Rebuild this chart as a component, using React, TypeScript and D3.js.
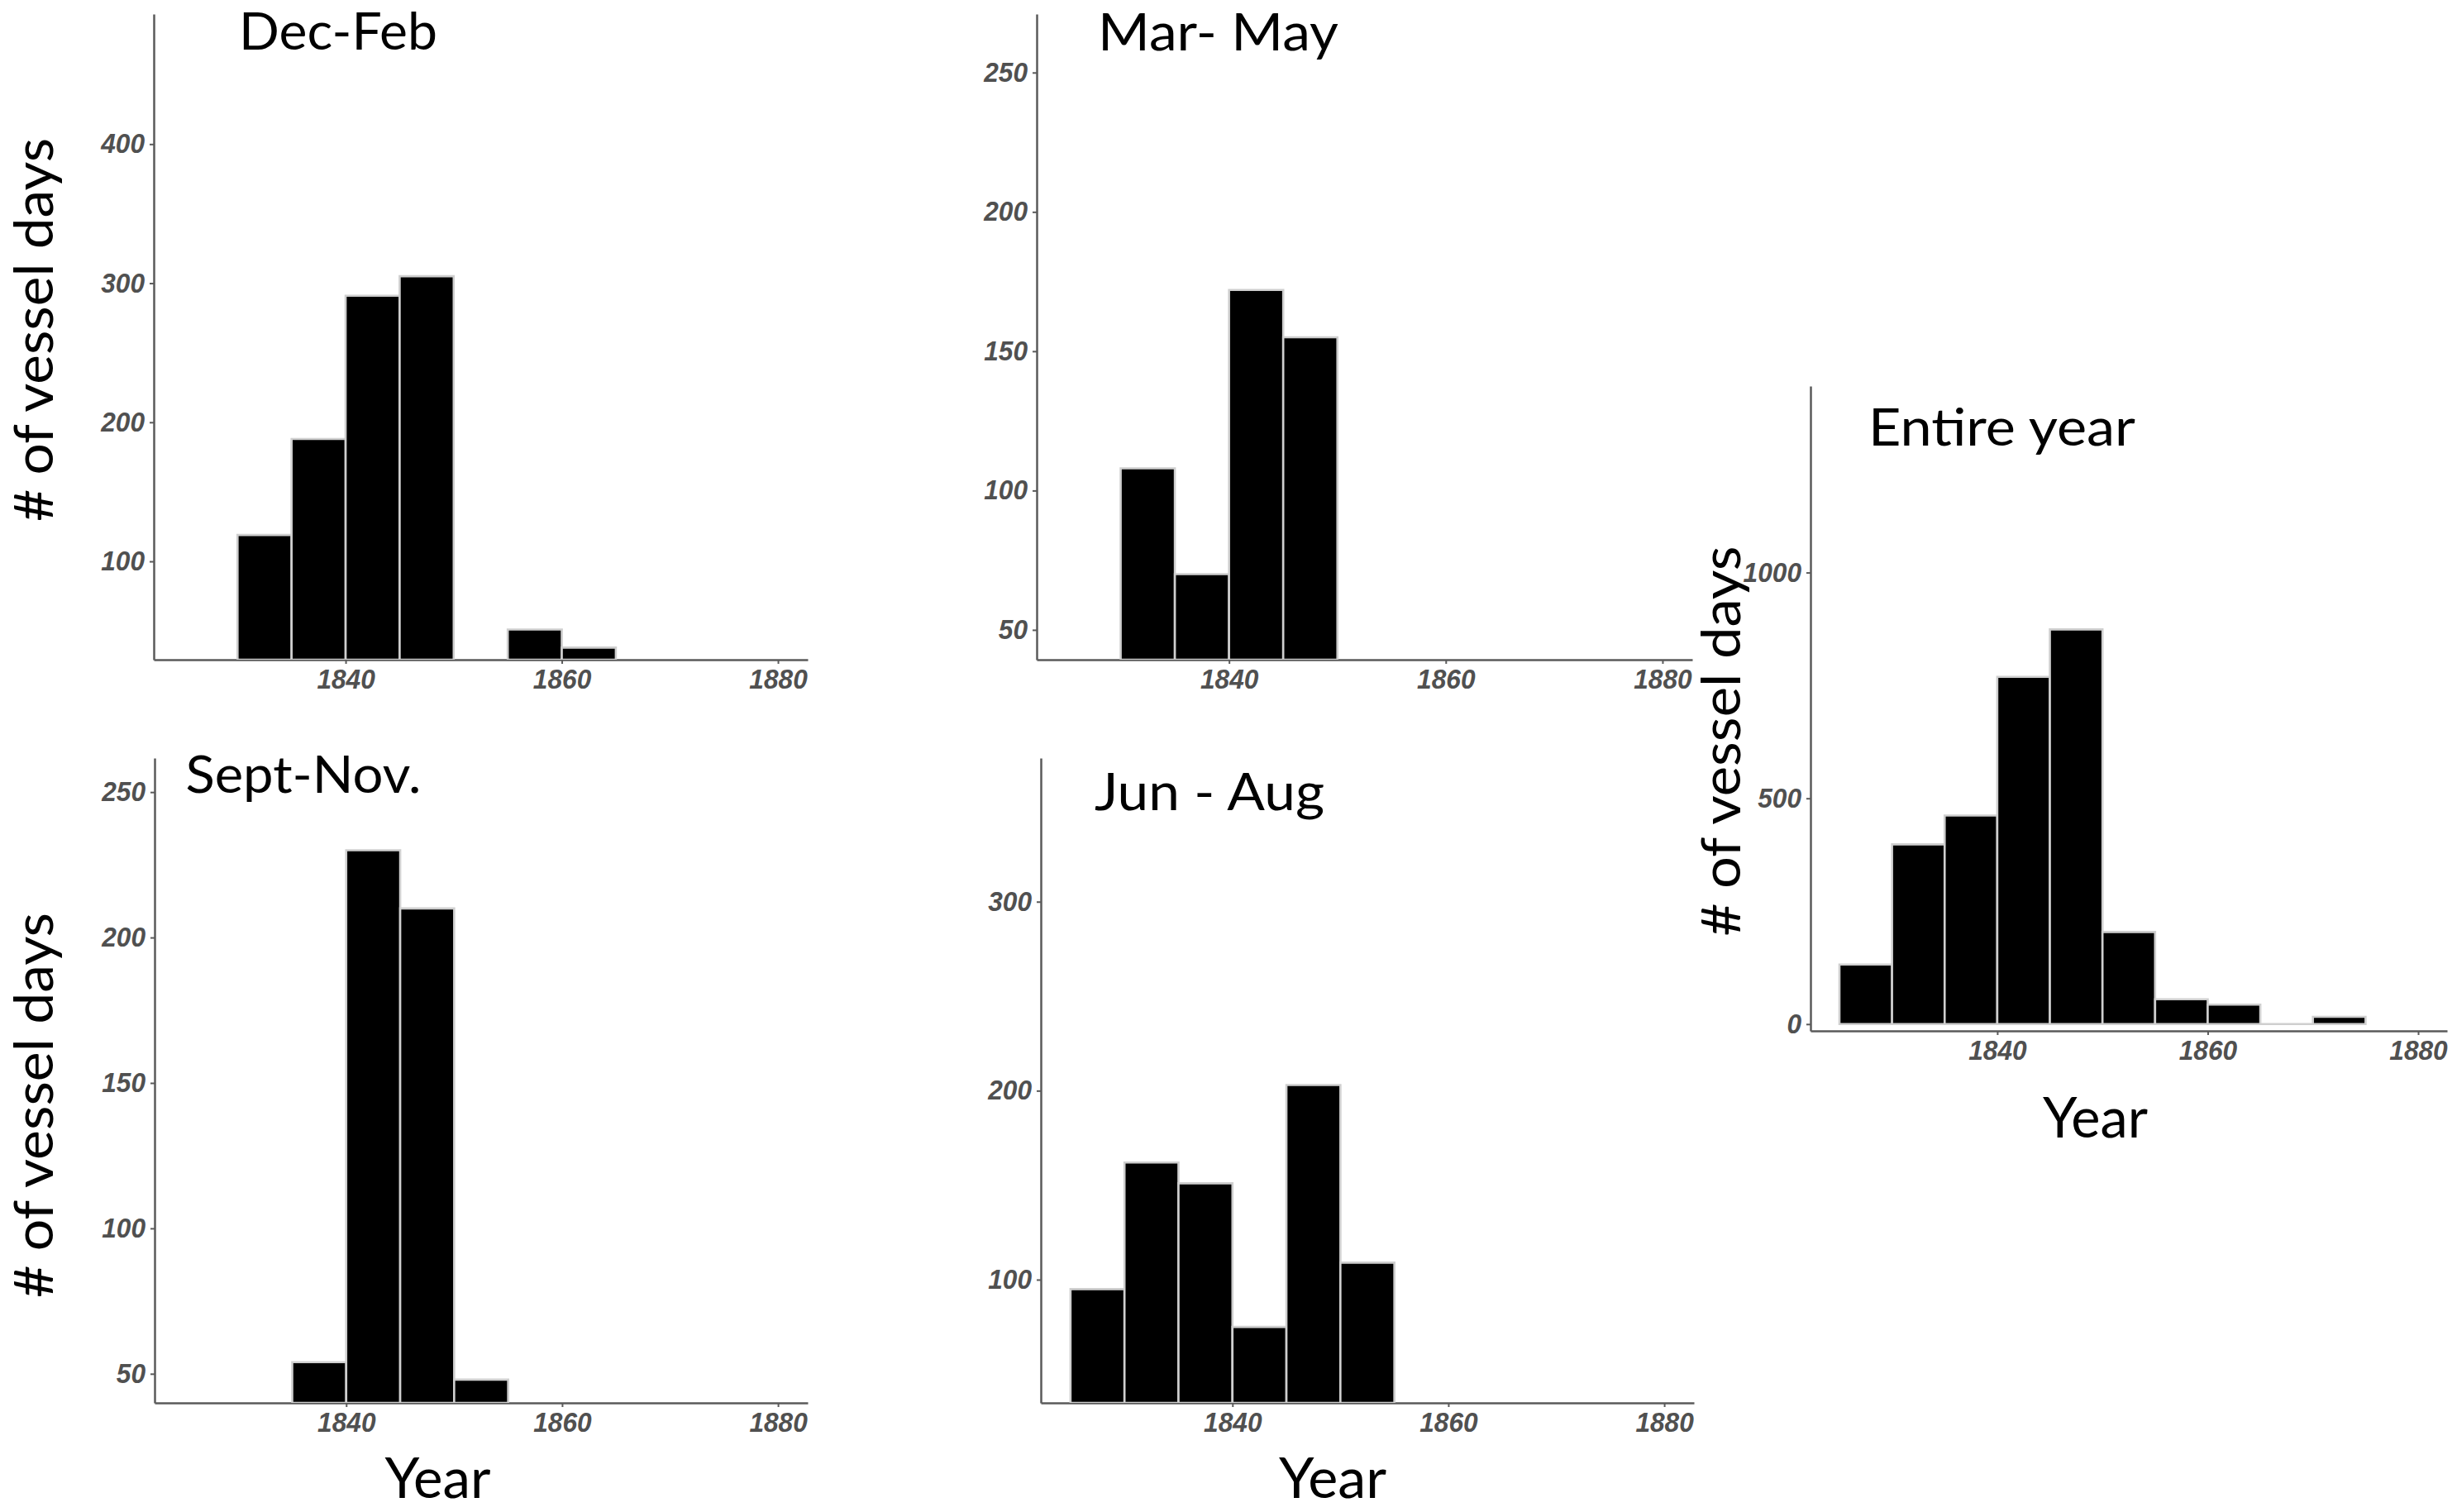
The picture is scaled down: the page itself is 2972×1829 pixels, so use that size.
import * as React from 'react';
import * as d3 from 'd3';

// histogram bins (left edge year) and vessel-day counts
const binWidth = 5;
const decFebBins = [1830, 1835, 1840, 1845, 1855, 1860];
const decFebCounts = [119, 188, 291, 305, 51, 38];
const marMayBins = [1830, 1835, 1840, 1845];
const marMayCounts = [108, 70, 172, 155];
const septNovBins = [1835, 1840, 1845, 1850];
const septNovCounts = [54, 230, 210, 48];
const junAugBins = [1825, 1830, 1835, 1840, 1845, 1850];
const junAugCounts = [95, 162, 151, 75, 203, 109];
const yearBins = [1825, 1830, 1835, 1840, 1845, 1850, 1855, 1860, 1865, 1870];
const yearCounts = [132, 398, 462, 769, 874, 204, 55, 43, 0, 16];

const xDomain = [1822.25, 1882.75];
const xTicks = [1840, 1860, 1880];
const decFebTicks = [100, 200, 300, 400];
const marMayTicks = [50, 100, 150, 200, 250];
const septNovTicks = [50, 100, 150, 200, 250];
const junAugTicks = [100, 200, 300];
const yearTicks = [0, 500, 1000];

const yLabel = '# of vessel days';
const xLabel = 'Year';

const panels = [
  { title: 'Dec-Feb', bins: decFebBins, counts: decFebCounts, ticks: decFebTicks, yDomain: [29.3, 493.5],
    box: { left: 186, top: 17, right: 977, bottom: 798 }, titlePos: [289, 60, 240] },
  { title: 'Mar- May', bins: marMayBins, counts: marMayCounts, ticks: marMayTicks, yDomain: [39.3, 271],
    box: { left: 1254, top: 17, right: 2047, bottom: 798 }, titlePos: [1328, 61, 291] },
  { title: 'Sept-Nov.', bins: septNovBins, counts: septNovCounts, ticks: septNovTicks, yDomain: [40, 261.7],
    box: { left: 187, top: 917, right: 977, bottom: 1697 }, titlePos: [224.5, 959, 285] },
  { title: 'Jun - Aug', bins: junAugBins, counts: junAugCounts, ticks: junAugTicks, yDomain: [34.8, 376],
    box: { left: 1259, top: 917, right: 2049, bottom: 1697 }, titlePos: [1324, 980, 278] },
  { title: 'Entire year', bins: yearBins, counts: yearCounts, ticks: yearTicks, yDomain: [-15, 1413],
    box: { left: 2190, top: 467, right: 2960, bottom: 1247 }, titlePos: [2260, 539, 323] },
];

// big labels: [x or baseline-x, y, length]
const yLabelPos = [[64, 399, 464], [64, 1337, 466], [2105, 896.5, 472]];
const xLabelPos = [[529.5, 1812, 128], [1612, 1812, 130], [2534.5, 1376, 127]];

const bigFont = 'Lato, "Open Sans", sans-serif';
const tickFont = '"Liberation Sans", Arial, sans-serif';
const grey = '#505050';
const axisColor = '#5a5a5a';
const charWidth = 17.6; // tick labels are a narrow bold italic face

class Histograms extends React.Component {
  private element;

  componentDidMount() {
    this.draw();
  }

  draw() {
    const svg = d3.select(this.element);
    svg.selectAll('*').remove();

    panels.forEach((p, i) => {
      const w = p.box.right - p.box.left;
      const h = p.box.bottom - p.box.top;
      const g = svg.append('g').attr('transform', `translate(${p.box.left}, ${p.box.top})`);

      const x = d3.scaleLinear().domain(xDomain).range([0, w]);
      const y = d3.scaleLinear().domain(p.yDomain).range([h, 0]);

      const clipId = `clip-${i}`;
      svg.append('clipPath').attr('id', clipId)
        .append('rect')
        .attr('x', p.box.left - 5).attr('y', p.box.top)
        .attr('width', w + 10).attr('height', h);

      const base = y(Math.max(0, p.yDomain[0]));
      const bars = p.bins.map((b, j) => ({ x0: b, x1: b + binWidth, v: p.counts[j] }));

      svg.append('g')
        .attr('clip-path', `url(#${clipId})`)
        .append('g')
        .attr('transform', `translate(${p.box.left}, ${p.box.top})`)
        .selectAll('path')
        .data(bars)
        .enter()
        .append('path')
        .attr('d', (d) => {
          const path = d3.path();
          path.moveTo(x(d.x0), base);
          path.lineTo(x(d.x0), y(d.v));
          path.lineTo(x(d.x1), y(d.v));
          path.lineTo(x(d.x1), base);
          path.closePath();
          return path.toString();
        })
        .attr('fill', '#000')
        .attr('stroke', '#cfcfcf')
        .attr('stroke-width', 2.6);

      const yAxis = d3.axisLeft(y).tickValues(p.ticks).tickSize(5).tickSizeOuter(0).tickPadding(6)
        .tickFormat(d3.format('d'));
      const xAxis = d3.axisBottom(x).tickValues(xTicks).tickSize(5).tickSizeOuter(0).tickPadding(7)
        .tickFormat(d3.format('d'));

      const yg = g.append('g').call(yAxis);
      const xg = g.append('g').attr('transform', `translate(0, ${h})`).call(xAxis);

      [yg, xg].forEach((ag) => {
        ag.select('.domain').attr('stroke', axisColor).attr('stroke-width', 2.5);
        ag.selectAll('.tick line').attr('stroke', axisColor).attr('stroke-width', 2);
        ag.selectAll('.tick text')
          .attr('fill', grey)
          .attr('font-family', tickFont)
          .attr('font-weight', 'bold')
          .attr('font-style', 'italic')
          .attr('font-size', 33)
          .attr('textLength', function () { return (this as any).textContent.length * charWidth; })
          .attr('lengthAdjust', 'spacingAndGlyphs');
      });

      svg.append('text')
        .attr('x', p.titlePos[0])
        .attr('y', p.titlePos[1])
        .attr('textLength', p.titlePos[2])
        .attr('lengthAdjust', 'spacingAndGlyphs')
        .attr('font-family', bigFont)
        .attr('font-size', 61)
        .attr('fill', '#000')
        .text(p.title);
    });

    yLabelPos.forEach(([bx, cy, len]) => {
      svg.append('text')
        .attr('transform', `translate(${bx}, ${cy}) rotate(-90)`)
        .attr('text-anchor', 'middle')
        .attr('textLength', len)
        .attr('lengthAdjust', 'spacingAndGlyphs')
        .attr('font-family', bigFont)
        .attr('font-size', 65)
        .attr('fill', '#000')
        .text(yLabel);
    });

    xLabelPos.forEach(([cx, by, len]) => {
      svg.append('text')
        .attr('x', cx)
        .attr('y', by)
        .attr('text-anchor', 'middle')
        .attr('textLength', len)
        .attr('lengthAdjust', 'spacingAndGlyphs')
        .attr('font-family', bigFont)
        .attr('font-size', 67)
        .attr('fill', '#000')
        .text(xLabel);
    });
  }

  render() {
    return (
      <div style={{ position: 'absolute', left: 0, top: 0 }}>
        <svg ref={(ref) => (this.element = ref)} width={2972} height={1829} style={{ display: 'block', background: '#fff' }} />
      </div>
    );
  }
}

export default function App() {
  return <Histograms />;
}
